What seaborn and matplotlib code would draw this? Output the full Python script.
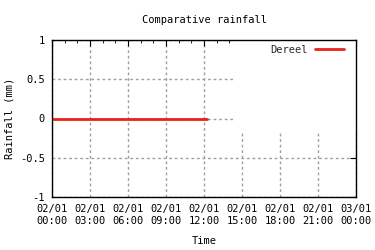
import matplotlib
matplotlib.use("Agg")
import matplotlib.pyplot as plt
import matplotlib.dates as mdates
from matplotlib.patches import Rectangle
import seaborn as sns
import pandas as pd
import numpy as np

sns.set_style("white")
plt.rcParams['font.family'] = ['DejaVu Sans Mono', 'DejaVu Sans']

times = ["2001-01-02 00:00", "2001-01-02 01:00", "2001-01-02 02:00", "2001-01-02 03:00",
         "2001-01-02 04:00", "2001-01-02 05:00", "2001-01-02 06:00", "2001-01-02 07:00",
         "2001-01-02 08:00", "2001-01-02 09:00", "2001-01-02 10:00", "2001-01-02 11:00",
         "2001-01-02 12:00", "2001-01-02 12:16"]
rainfall = [0, 0, 0, 0, 0, 0, 0, 0, 0, 0, 0, 0, 0, 0]
series_name = "Dereel"
xlim = ["2001-01-02 00:00", "2001-01-03 00:00"]

df = pd.DataFrame({"Time": pd.to_datetime(times), "Rainfall": rainfall, "Station": series_name})

FS = 7.5
fig = plt.figure(figsize=(3.75, 2.5), dpi=100)
ax = fig.add_axes([52/375, 1-197/250, (356-52)/375, (197-40)/250])

sns.lineplot(data=df, x="Time", y="Rainfall", ax=ax, color="#e8231a", linewidth=2,
             label=series_name, zorder=5)

ax.set_xlim(pd.to_datetime(xlim[0]), pd.to_datetime(xlim[1]))
ax.set_ylim(-1, 1)
ax.set_yticks([-1, -0.5, 0, 0.5, 1])
ax.set_yticklabels(["-1", "-0.5", "0", "0.5", "1"])
ax.xaxis.set_major_locator(mdates.HourLocator(byhour=range(0, 24, 3)))
ax.xaxis.set_minor_locator(mdates.HourLocator())
ax.xaxis.set_major_formatter(mdates.DateFormatter("%d/%m\n%H:%M"))

ax.grid(True, which="major", color="#a0a0a0", linestyle=(0, (2, 2)), linewidth=1)
ax.set_axisbelow(True)
# key area occludes grid, like gnuplot
ax.add_patch(Rectangle((0.599, 0.42), 0.401, 0.58, transform=ax.transAxes,
                       facecolor="white", edgecolor="none", zorder=1))

for s in ax.spines.values():
    s.set_color("black")
    s.set_linewidth(1)
    s.set_zorder(6)

ax.tick_params(axis="both", which="both", direction="in", top=True, right=True,
               labelsize=FS, color="black", labelcolor="black")
ax.tick_params(axis="x", which="major", length=4, pad=5)
ax.tick_params(axis="x", which="minor", length=2.5)
ax.tick_params(axis="y", which="major", length=4, pad=5)
for lbl in ax.get_xticklabels():
    lbl.set_linespacing(1.3)

ax.set_title("Comparative rainfall", fontsize=FS, pad=12, color="black")
ax.set_xlabel("Time", fontsize=FS, color="black")
ax.set_ylabel("Rainfall (mm)", fontsize=FS, color="black")
ax.xaxis.set_label_coords(0.5, (197-241)/157)
ax.yaxis.set_label_coords((10-52)/304, 0.5)
ax.xaxis.label.set_va("center")
ax.yaxis.label.set_va("center")

leg = ax.legend(loc="upper right", bbox_to_anchor=(0.977, 1.0), frameon=False,
                markerfirst=False, fontsize=FS,
                handlelength=2.8, borderaxespad=0.15, handletextpad=0.7,
                borderpad=0.3)

fig.savefig("out.png", dpi=100)
